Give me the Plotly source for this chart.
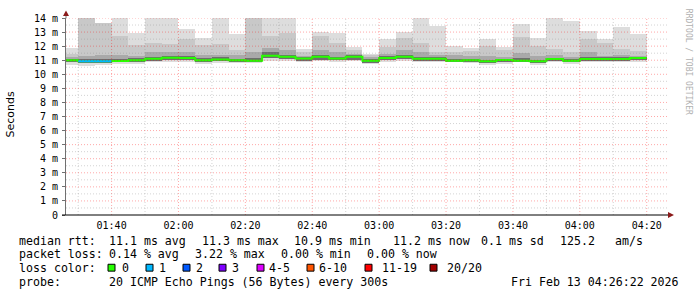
import plotly.graph_objects as go
import pandas as pd

# ---------------- data ----------------
interval_end = pd.date_range("2026-02-13 01:30", periods=35, freq="5min")

rtt_max = [11.90, 14.00, 13.65, 14.00, 12.90, 14.00, 14.00, 13.20, 12.60, 14.00,
           12.83, 14.00, 14.00, 14.00, 11.78, 13.00, 12.90, 11.97, 11.43, 12.53,
           13.00, 14.00, 13.46, 12.02, 11.90, 12.48, 11.97, 13.58, 12.60, 14.00,
           13.81, 13.07, 12.53, 13.37, 12.83]
rtt_hi2 = [11.45, 14.00, 13.65, 12.75, 12.10, 12.25, 12.15, 12.50, 12.05, 12.15,
           11.75, 14.00, 12.70, 12.95, 11.60, 12.75, 12.25, 11.75, 11.40, 11.95,
           12.60, 12.25, 11.60, 11.60, 11.65, 12.00, 11.75, 12.67, 12.00, 11.78,
           11.55, 12.50, 12.20, 11.80, 11.65]
rtt_hi3 = [11.25, 11.30, 11.40, 11.40, 11.30, 11.55, 11.60, 11.55, 11.35, 11.40,
           11.35, 11.55, 11.85, 11.70, 11.30, 11.75, 11.60, 11.45, 11.20, 11.45,
           11.75, 11.55, 11.35, 11.35, 11.30, 11.30, 11.25, 11.50, 11.30, 11.35,
           11.25, 11.55, 11.30, 11.40, 11.30]
rtt_hi4 = [11.12, 11.10, 11.10, 11.10, 11.15, 11.25, 11.30, 11.30, 11.15, 11.20,
           11.12, 11.15, 11.55, 11.40, 11.22, 11.40, 11.25, 11.35, 11.07, 11.27,
           11.38, 11.22, 11.20, 11.12, 11.10, 11.05, 11.12, 11.15, 11.05, 11.18,
           11.08, 11.25, 11.20, 11.20, 11.25]
rtt_median = [11.00, 10.93, 10.93, 10.95, 11.00, 11.10, 11.18, 11.15, 11.00, 11.05,
              11.00, 10.97, 11.32, 11.25, 11.13, 11.25, 11.13, 11.25, 10.97, 11.15,
              11.25, 11.10, 11.10, 10.97, 11.00, 10.92, 11.02, 10.97, 10.92, 11.08,
              10.97, 11.08, 11.08, 11.08, 11.15]
rtt_lo = [10.85, 10.80, 10.80, 10.85, 10.85, 10.95, 11.05, 11.05, 10.85, 10.95,
          10.90, 10.88, 11.15, 11.10, 10.95, 11.05, 11.00, 11.05, 10.82, 11.00,
          11.10, 10.98, 10.95, 10.90, 10.90, 10.80, 10.90, 10.90, 10.80, 10.95,
          10.85, 10.95, 10.95, 10.95, 11.00]
rtt_min = [10.68, 10.60, 10.65, 10.70, 10.72, 10.85, 10.90, 10.85, 10.70, 10.80,
           10.80, 10.80, 10.95, 10.95, 10.85, 10.92, 10.85, 10.95, 10.72, 10.85,
           10.95, 10.85, 10.85, 10.85, 10.78, 10.68, 10.75, 10.85, 10.68, 10.85,
           10.75, 10.85, 10.85, 10.85, 10.88]
loss = [0, 1, 1, 0, 0, 0, 0, 0, 0, 0, 0, 0, 0, 0, 0, 0, 0, 0, 0, 0,
        0, 0, 0, 0, 0, 0, 0, 0, 0, 0, 0, 0, 0, 0, 0]

y_ticks = list(range(0, 15))
y_tick_labels = ["0"] + [f"{v} m" for v in range(1, 15)]

loss_labels = ["0", "1", "2", "3", "4-5", "6-10", "11-19", "20/20"]
loss_colors = ["#26ff00", "#00b8ff", "#0059ff", "#7e00ff", "#dd00ff", "#ff5500", "#ff0000", "#a10000"]

rtt_items = ["median rtt:", "11.1 ms avg", "11.3 ms max", "10.9 ms min", "11.2 ms now",
             "0.1 ms sd", "125.2", "am/s"]
loss_items = ["packet loss:", "0.14 % avg", "3.22 % max", "0.00 % min", "0.00 % now"]
probe_items = ["probe:", "20 ICMP Echo Pings (56 Bytes) every 300s"]
stamp_text = "Fri Feb 13 04:26:22 2026"

x_start = pd.Timestamp("2026-02-13 01:26:22")
x_stop = pd.Timestamp("2026-02-13 04:26:22")

# ---------------- geometry ----------------
W, H = 697, 297
ML, MR, MT, MB = 66, 29, 15, 82
PW, PH = W - ML - MR, H - MT - MB
MONO = "DejaVu Sans Mono"
STEP = pd.Timedelta("5min")
centers = [t - STEP / 2 for t in interval_end]
width_ms = STEP.total_seconds() * 1000

rtt_item_x = [16.5, 107.3, 200, 292, 390.7, 479.3, 558.3, 613.3]
loss_item_x = [16.5, 107.3, 192.7, 279.3, 365]
probe_item_x = [16.5, 107.3]


def px(xp):
    return (xp - ML) / PW


def py(yp):
    return (H - MB - yp) / PH


fig = go.Figure()


def band(lo, hi, color):
    fig.add_trace(go.Bar(
        x=centers, base=lo, y=[h - l for h, l in zip(hi, lo)], width=width_ms,
        marker=dict(color=color, line=dict(width=0)), hoverinfo="skip", showlegend=False))


band(rtt_min, rtt_max, "#dddddd")
band(rtt_lo, rtt_hi2, "#c8c8c8")
band(rtt_lo, rtt_hi3, "#a9a9a9")
band(rtt_lo, rtt_hi4, "#6e6e6e")

# median line (stepped), coloured by loss
starts = [t - STEP for t in interval_end]
xs = starts + [interval_end[-1]]
ys = rtt_median + [rtt_median[-1]]
fig.add_trace(go.Scatter(x=xs, y=ys, mode="lines", line=dict(color=loss_colors[0], width=2, shape="hv"),
                         hoverinfo="skip", showlegend=False))
for i, l in enumerate(loss):
    if l > 0:
        fig.add_trace(go.Scatter(x=[starts[i], interval_end[i]], y=[rtt_median[i], rtt_median[i]],
                                 mode="lines", line=dict(color=loss_colors[l], width=2),
                                 hoverinfo="skip", showlegend=False))

shapes = []
DOT = "1px,2px"
# grid (drawn above data, like rrdtool)
t = pd.Timestamp("2026-02-13 01:30")
while t <= x_stop:
    major = (t.minute % 20 == 0)
    shapes.append(dict(type="line", xref="x", yref="paper", x0=t, x1=t, y0=0, y1=1, layer="above",
                       line=dict(color="rgba(255,0,0,0.34)" if major else "rgba(140,140,140,0.38)",
                                 width=1, dash=DOT)))
    t += pd.Timedelta("10min")
for v in range(1, 29):
    val = v / 2
    major = (v % 2 == 0)
    shapes.append(dict(type="line", xref="paper", yref="y", x0=0, x1=1, y0=val, y1=val, layer="above",
                       line=dict(color="rgba(255,0,0,0.34)" if major else "rgba(140,140,140,0.38)",
                                 width=1, dash=DOT)))
# axis extensions and arrows
shapes.append(dict(type="line", xref="paper", yref="paper", x0=0, x1=0, y0=1, y1=py(11),
                   line=dict(color="#707070", width=1), layer="above"))
shapes.append(dict(type="line", xref="paper", yref="paper", x0=px(62), x1=px(670), y0=0, y1=0,
                   line=dict(color="#000000", width=1), layer="above"))
shapes.append(dict(type="path", xref="paper", yref="paper", layer="above",
                   path=f"M {px(63)},{py(13)} L {px(69)},{py(13)} L {px(66)},{py(7.5)} Z",
                   fillcolor="#8b1a1a", line=dict(width=0)))
shapes.append(dict(type="path", xref="paper", yref="paper", layer="above",
                   path=f"M {px(668)},{py(212)} L {px(668)},{py(218)} L {px(674)},{py(215)} Z",
                   fillcolor="#8b1a1a", line=dict(width=0)))

# loss colour legend boxes
box_x = [108, 146, 183, 219, 257, 307, 365, 430]
lab_x = [120, 157, 194, 230, 267, 317, 380, 445]
for bx, c in zip(box_x, loss_colors):
    shapes.append(dict(type="rect", xref="paper", yref="paper", x0=px(bx), x1=px(bx + 7),
                       y0=py(272), y1=py(265), fillcolor=c, line=dict(color="#000000", width=1)))

ann = []


def text(xp, yp, s, size=11.6, anchor="left", family=MONO, color="#000000", angle=0):
    ann.append(dict(xref="paper", yref="paper", x=px(xp), y=py(yp), text=s.replace(" ", "\u00a0"),
                    showarrow=False, xanchor=anchor, yanchor="middle", textangle=angle,
                    font=dict(family=family, size=size, color=color)))


for xp, s in zip(rtt_item_x, rtt_items):
    text(xp, 241, s)
for xp, s in zip(loss_item_x, loss_items):
    text(xp, 255, s)
text(16.5, 268.5, "loss color:")
for lx, lab in zip(lab_x, loss_labels):
    text(lx, 268.5, lab)
for xp, s in zip(probe_item_x, probe_items):
    text(xp, 283, s)
text(681, 283, stamp_text, anchor="right")
ann.append(dict(xref="paper", yref="paper", x=px(11), y=py(113), text="Seconds", showarrow=False,
                xanchor="center", yanchor="middle", textangle=-90,
                font=dict(family="DejaVu Sans", size=11, color="#000000")))
ann.append(dict(xref="paper", yref="paper", x=px(688.5), y=py(59), text="RRDTOOL / TOBI OETIKER".replace(" ", "\u00a0"),
                showarrow=False, xanchor="center", yanchor="middle", textangle=90,
                font=dict(family=MONO, size=8, color="#b0b0b0")))

fig.update_layout(
    width=W, height=H, margin=dict(l=ML, r=MR, t=MT, b=MB, pad=0),
    paper_bgcolor="#ffffff", plot_bgcolor="#ffffff",
    barmode="overlay", bargap=0, showlegend=False,
    shapes=shapes, annotations=ann,
    xaxis=dict(type="date", range=[x_start, x_stop], showgrid=False, zeroline=False,
               tick0="2026-02-13 01:40", dtick=20 * 60 * 1000, tickformat="%H:%M",
               tickfont=dict(family=MONO, size=10, color="#000000"), ticks="", showline=False,
               ticklabelstandoff=3, fixedrange=True),
    yaxis=dict(range=[0, 14], tickvals=y_ticks, ticktext=y_tick_labels, showgrid=False, zeroline=False,
               tickfont=dict(family=MONO, size=10, color="#000000"), ticks="outside", ticklen=3,
               tickcolor="#707070", showline=True, linecolor="#707070", linewidth=1,
               ticklabelstandoff=2, fixedrange=True),
)

fig.write_html("out.html")
